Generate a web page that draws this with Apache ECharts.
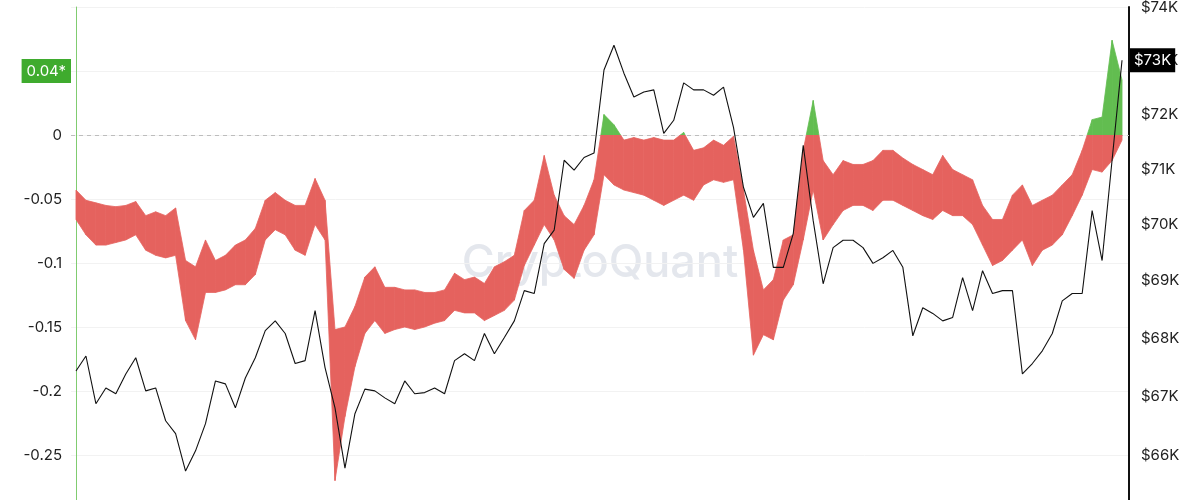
<!DOCTYPE html>
<html><head><meta charset="utf-8">
<script src="https://cdn.jsdelivr.net/npm/echarts@6/dist/echarts.min.js"></script>
<style>html,body{margin:0;padding:0;background:#fff}#c{width:1200px;height:500px}</style>
</head><body><div id="c"></div>
<script>
// Oscillator band: upper and lower edge of the noisy trace (left axis)
const oscHigh = [-0.043,-0.051,-0.053,-0.055,-0.056,-0.055,-0.052,-0.063,-0.060,-0.063,-0.057,-0.098,-0.103,-0.082,-0.098,-0.094,-0.086,-0.082,-0.073,-0.051,-0.045,
 -0.051,-0.055,-0.055,-0.034,-0.051,-0.152,-0.150,-0.134,-0.111,-0.103,-0.119,-0.119,-0.121,-0.121,-0.123,-0.123,-0.121,-0.108,-0.113,-0.111,-0.116,
 -0.103,-0.099,-0.094,-0.059,-0.051,-0.016,-0.047,-0.063,-0.070,-0.055,-0.035,0.016,0.008,-0.004,-0.002,-0.004,-0.002,-0.004,-0.004,0.002,-0.012,
 -0.010,-0.004,-0.008,-0.001,-0.043,-0.090,-0.121,-0.113,-0.082,-0.078,-0.012,0.027,-0.020,-0.031,-0.020,-0.023,-0.023,-0.020,-0.012,-0.012,-0.018,-0.023,
 -0.027,-0.031,-0.016,-0.027,-0.031,-0.035,-0.055,-0.066,-0.066,-0.047,-0.039,-0.055,-0.051,-0.047,-0.039,-0.031,-0.012,0.012,0.014,0.074,0.043];
const oscLow = [-0.066,-0.078,-0.086,-0.086,-0.084,-0.082,-0.078,-0.090,-0.094,-0.096,-0.094,-0.145,-0.160,-0.123,-0.123,-0.121,-0.117,-0.117,-0.109,-0.082,-0.074,
 -0.078,-0.090,-0.094,-0.070,-0.082,-0.270,-0.220,-0.181,-0.155,-0.145,-0.155,-0.152,-0.150,-0.152,-0.150,-0.147,-0.145,-0.137,-0.139,-0.139,-0.145,
 -0.141,-0.137,-0.129,-0.102,-0.086,-0.070,-0.082,-0.105,-0.112,-0.090,-0.078,-0.031,-0.039,-0.043,-0.045,-0.047,-0.051,-0.055,-0.051,-0.047,-0.051,
 -0.039,-0.035,-0.037,-0.035,-0.090,-0.172,-0.156,-0.160,-0.129,-0.117,-0.082,-0.043,-0.082,-0.070,-0.059,-0.055,-0.055,-0.059,-0.051,-0.051,-0.055,-0.059,
 -0.063,-0.066,-0.059,-0.063,-0.063,-0.070,-0.086,-0.102,-0.098,-0.090,-0.082,-0.102,-0.090,-0.086,-0.078,-0.063,-0.047,-0.027,-0.029,-0.020,-0.004];
// BTC price (right axis, USD)
const btcPrice = [67430,67690,66870,67140,67040,67380,67660,67090,67140,66580,66360,65730,66070,66530,67260,67210,66800,67310,67660,68130,68300,
 68080,67560,67610,68480,67490,66800,65780,66700,67120,67090,66970,66870,67260,67040,67060,67140,67040,67610,67730,67610,68080,
 67730,68010,68300,68830,68780,69660,69900,71160,70980,71210,71290,72820,73280,72760,72320,72410,72450,71650,71890,72580,72450,
 72450,72350,72500,71760,70670,70130,70380,69240,69240,69840,71430,70070,68950,69590,69720,69720,69590,69310,69410,69540,69240,68040,
 68530,68430,68300,68360,69060,68480,69180,68780,68830,68830,67380,67560,67780,68080,68650,68780,68780,70250,69360,71160,73000];
const oscTicks = [-0.3,-0.25,-0.2,-0.15,-0.1,-0.05,0,0.05,0.1];
const priceTicks = [66000,67000,68000,69000,70000,71000,72000,73000,74000];
const oscMarker = {value: 0.05, text: '0.04*'};

const RED = '#e5625e', GREEN = '#62bd50';
const idx = btcPrice.map((_, i) => i);
const bandData = idx.map(i => [i, oscLow[i], oscHigh[i]]);
const priceData = idx.map(i => [i, btcPrice[i]]);
const lastPrice = btcPrice[btcPrice.length - 1];
const fmtK = v => '$' + Math.round(v / 1000) + 'K';
const HIDDEN = {color: 'rgba(0,0,0,0)', width: 0};

const chart = echarts.init(document.getElementById('c'), null, {renderer: 'canvas'});
chart.setOption({
  animation: false,
  backgroundColor: '#fff',
  textStyle: {fontFamily: 'Inter, "Noto Sans", sans-serif'},
  grid: {left: 71, right: 71, top: 7, bottom: -19, outerBoundsMode: 'none', containLabel: false},
  graphic: [{type: 'text', x: 600, y: 263, z: -10,
    style: {text: 'CryptoQuant', fill: '#e4e7ed', font: '500 45px Inter, "Noto Sans", sans-serif', align: 'center', verticalAlign: 'middle'}}],
  xAxis: {type: 'value', min: -0.5, max: 105.7, show: false},
  yAxis: [
    {type: 'value', position: 'left', min: oscTicks[0], max: oscTicks[oscTicks.length-1], interval: 0.05,
     axisLine: {show: true, lineStyle: {color: '#80cc70', width: 1}}, axisTick: {show: false},
     axisLabel: {color: '#222', fontSize: 15, margin: 9, showMaxLabel: false,
       formatter: v => String(Math.round(v * 100) / 100)},
     splitLine: {show: true, lineStyle: {color: '#f2f2f2'}}},
    {type: 'log', logBase: 10, position: 'right', min: 64930, max: 74000,
     axisLine: {show: true, lineStyle: {color: '#111', width: 2}}, axisTick: {show: false},
     axisLabel: {color: '#222', fontSize: 15, margin: 12, customValues: priceTicks, formatter: fmtK},
     splitLine: {show: false}}
  ],
  series: [
    {name: 'osc', type: 'custom', yAxisIndex: 0, data: bandData, encode: {x: 0, y: [1, 2]}, z: 2, silent: true,
     renderItem: (params, api) => {
       const i = params.dataIndexInside;
       if (i >= params.dataInsideLength - 1) return null;
       const p1 = api.coord([api.value(0, i), api.value(1, i)]);
       const p2 = api.coord([api.value(0, i), api.value(2, i)]);
       const p3 = api.coord([api.value(0, i + 1), api.value(2, i + 1)]);
       const p4 = api.coord([api.value(0, i + 1), api.value(1, i + 1)]);
       const zy = api.coord([0, 0])[1];
       const fill = new echarts.graphic.LinearGradient(0, zy - 1, 0, zy + 1,
         [{offset: 0, color: GREEN}, {offset: 0.5, color: GREEN}, {offset: 0.5, color: RED}, {offset: 1, color: RED}], true);
       return {type: 'polygon', shape: {points: [p1, p2, p3, p4]}, style: {fill: fill, stroke: fill, lineWidth: 0.8}};
     },
     markLine: {symbol: 'none', silent: true, z: 1, animation: false,
       data: [
         {yAxis: 0, lineStyle: {color: '#bdbdbd', type: [4, 4], width: 1}, label: {show: false}},
         {yAxis: oscMarker.value, lineStyle: HIDDEN,
          label: {show: true, position: 'start', distance: 0, formatter: oscMarker.text, color: '#fff',
                  backgroundColor: '#3fab2e', fontSize: 15, padding: [5, 5, 4, 5]}}
       ]}},
    {name: 'price', type: 'line', yAxisIndex: 1, data: priceData, symbol: 'none',
     lineStyle: {color: '#111', width: 1.1}, z: 3,
     markLine: {symbol: 'none', silent: true, animation: false,
       data: [{yAxis: lastPrice, lineStyle: HIDDEN,
         label: {show: true, position: 'end', distance: 1, formatter: fmtK(lastPrice), color: '#fff',
                 backgroundColor: '#000', fontSize: 15, padding: [5, 4, 4, 4]}}]}}
  ]
});
</script></body></html>
